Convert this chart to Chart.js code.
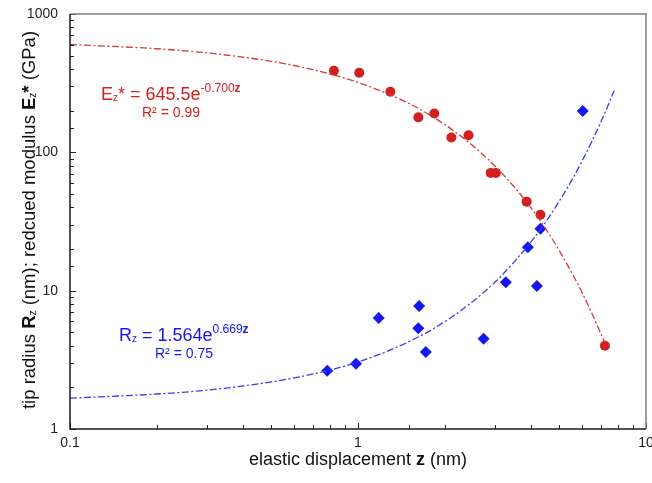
<!DOCTYPE html>
<html>
<head>
<meta charset="utf-8">
<script src="https://cdn.jsdelivr.net/npm/chart.js@4/dist/chart.umd.min.js"></script>
<style>
  html, body { margin: 0; padding: 0; background: #fff; }
  #wrap { width: 652px; height: 483px; }
</style>
</head>
<body>
<div id="wrap"><canvas id="chart" width="652" height="483"></canvas></div>
<script>
// Data
const modulusZ = [0.825, 1.01, 1.295, 1.62, 1.84, 2.11, 2.42, 2.89, 3.01, 3.85, 4.30, 7.2];
const modulusE = [389, 376, 274, 179, 191, 128, 133, 71, 71, 44, 35.4, 4.0];
const radiusZ = [0.782, 0.984, 1.18, 1.63, 1.62, 1.72, 2.73, 3.26, 3.89, 4.18, 4.30, 6.03];
const radiusR = [2.64, 2.96, 6.34, 7.74, 5.34, 3.61, 4.49, 11.5, 20.6, 10.8, 28.0, 199];

// Trend lines
const modulusFitZ = [0.1, 0.2, 0.3, 0.5, 0.7, 1, 1.5, 2, 2.5, 3, 3.5, 4, 4.5, 5, 5.5, 6, 6.5, 7, 7.2];
const modulusFit = [602, 561, 523, 455, 395, 320, 226, 159, 112, 79, 55.7, 39.3, 27.7, 19.5, 13.7, 9.7, 6.8, 4.8, 4.2];
const radiusFitZ = [0.1, 0.2, 0.3, 0.5, 0.7, 1, 1.5, 2, 2.5, 3, 3.5, 4, 4.5, 5, 5.5, 6, 6.5, 7, 7.5, 7.75];
const radiusFit = [1.67, 1.79, 1.91, 2.19, 2.50, 3.05, 4.27, 5.96, 8.33, 11.6, 16.3, 22.7, 31.7, 44.4, 61.9, 86.6, 121, 169, 236, 279];

const xRange = [0.1, 10];
const yRange = [1, 1000];

const RED = '#d21f1f';
const BLUE = '#1616f5';
const FONT = '"Liberation Sans", Arial, sans-serif';

const toPoints = (xs, ys) => xs.map((x, i) => ({ x, y: ys[i] }));
const isDecade = v => Math.abs(Math.log10(v) - Math.round(Math.log10(v))) < 1e-9;

// Draw a row of text pieces with mixed size / weight / offset
function runsWidth(ctx, runs) {
  return runs.reduce((w, r) => {
    ctx.font = `${r.bold ? 'bold ' : ''}${r.size}px ${FONT}`;
    return w + ctx.measureText(r.text).width;
  }, 0);
}
function drawRuns(ctx, x, y, runs, color) {
  ctx.fillStyle = color;
  ctx.textBaseline = 'alphabetic';
  ctx.textAlign = 'left';
  runs.forEach(r => {
    ctx.font = `${r.bold ? 'bold ' : ''}${r.size}px ${FONT}`;
    ctx.fillText(r.text, x, y + (r.dy || 0));
    x += ctx.measureText(r.text).width;
  });
}

const decorations = {
  id: 'decorations',
  afterDraw(chart) {
    const { ctx, chartArea: a, scales } = chart;
    ctx.save();

    // inward tick marks
    ctx.strokeStyle = '#222';
    ctx.lineWidth = 1;
    scales.x.ticks.forEach(t => {
      const px = Math.round(scales.x.getPixelForValue(t.value)) + 0.5;
      const len = isDecade(t.value) ? 6 : 4;
      ctx.beginPath();
      ctx.moveTo(px, a.bottom);
      ctx.lineTo(px, a.bottom - len);
      ctx.stroke();
    });
    scales.y.ticks.forEach(t => {
      const py = Math.round(scales.y.getPixelForValue(t.value)) + 0.5;
      const len = isDecade(t.value) ? 6 : 4;
      ctx.beginPath();
      ctx.moveTo(a.left, py);
      ctx.lineTo(a.left + len, py);
      ctx.stroke();
    });

    // frame
    ctx.lineWidth = 1.5;
    ctx.strokeStyle = '#808080';
    ctx.beginPath();
    ctx.moveTo(a.left, a.top);
    ctx.lineTo(a.right, a.top);
    ctx.lineTo(a.right, a.bottom);
    ctx.stroke();
    ctx.strokeStyle = '#1a1a1a';
    ctx.beginPath();
    ctx.moveTo(a.left, a.top);
    ctx.lineTo(a.left, a.bottom);
    ctx.lineTo(a.right, a.bottom);
    ctx.stroke();

    // axis titles
    const xTitle = [
      { text: 'elastic displacement ', size: 18 },
      { text: 'z', size: 18, bold: true },
      { text: ' (nm)', size: 18 }
    ];
    const cx = (a.left + a.right) / 2;
    drawRuns(ctx, cx - runsWidth(ctx, xTitle) / 2, 465, xTitle, '#111');

    const yTitle = [
      { text: 'tip radius ', size: 18.5 },
      { text: 'R', size: 18.5, bold: true },
      { text: 'z', size: 10, dy: 1 },
      { text: ' (nm); redcued modulus ', size: 18.5 },
      { text: 'E', size: 18.5, bold: true },
      { text: 'z', size: 10, dy: 1 },
      { text: '*', size: 18.5, bold: true },
      { text: ' (GPa)', size: 18.5 }
    ];
    ctx.save();
    ctx.translate(35, 220);
    ctx.rotate(-Math.PI / 2);
    drawRuns(ctx, -runsWidth(ctx, yTitle) / 2, 0, yTitle, '#111');
    ctx.restore();

    // fit equations
    drawRuns(ctx, 101, 100, [
      { text: 'E', size: 18 },
      { text: 'z', size: 10, dy: 1 },
      { text: '* = 645.5e', size: 18 },
      { text: '-0.700', size: 12, dy: -8 },
      { text: 'z', size: 12, bold: true, dy: -8 }
    ], RED);
    drawRuns(ctx, 142, 117, [{ text: 'R² = 0.99', size: 14 }], RED);

    drawRuns(ctx, 119, 341, [
      { text: 'R', size: 18 },
      { text: 'z', size: 10, dy: 1 },
      { text: ' = 1.564e', size: 18 },
      { text: '0.669', size: 12, dy: -8 },
      { text: 'z', size: 12, bold: true, dy: -8 }
    ], BLUE);
    drawRuns(ctx, 155, 358, [{ text: 'R² = 0.75', size: 14 }], BLUE);

    ctx.restore();
  }
};

new Chart(document.getElementById('chart'), {
  type: 'scatter',
  data: {
    datasets: [
      {
        type: 'line',
        label: 'E fit',
        data: toPoints(modulusFitZ, modulusFit),
        borderColor: '#d43a3a',
        borderWidth: 1.3,
        borderDash: [7, 2.5, 2, 2.5],
        pointRadius: 0,
        fill: false,
        cubicInterpolationMode: 'monotone'
      },
      {
        type: 'line',
        label: 'R fit',
        data: toPoints(radiusFitZ, radiusFit),
        borderColor: '#3a3af5',
        borderWidth: 1.3,
        borderDash: [7, 2.5, 2, 2.5],
        pointRadius: 0,
        fill: false,
        cubicInterpolationMode: 'monotone'
      },
      {
        label: 'Ez*',
        data: toPoints(modulusZ, modulusE),
        pointStyle: 'circle',
        pointRadius: 5,
        pointHoverRadius: 5,
        backgroundColor: RED,
        borderColor: RED,
        borderWidth: 0
      },
      {
        label: 'Rz',
        data: toPoints(radiusZ, radiusR),
        pointStyle: 'rectRot',
        pointRadius: 6,
        pointHoverRadius: 6,
        backgroundColor: BLUE,
        borderColor: BLUE,
        borderWidth: 0
      }
    ]
  },
  options: {
    responsive: false,
    animation: false,
    events: [],
    layout: { padding: { top: 14, right: 6, left: 0, bottom: 0 } },
    plugins: {
      legend: { display: false },
      tooltip: { enabled: false }
    },
    scales: {
      x: {
        type: 'logarithmic',
        min: xRange[0],
        max: xRange[1],
        grid: { display: false, drawTicks: false },
        border: { display: false },
        ticks: {
          autoSkip: false,
          maxRotation: 0,
          padding: 6,
          color: '#222',
          font: { family: FONT, size: 14 },
          callback: v => (isDecade(v) ? String(v) : '')
        },
        afterFit(scale) {
          scale.height = 54;
          scale.paddingLeft = 0;
          scale.paddingRight = 0;
        }
      },
      y: {
        type: 'logarithmic',
        min: yRange[0],
        max: yRange[1],
        grid: { display: false, drawTicks: false },
        border: { display: false },
        ticks: {
          autoSkip: false,
          padding: 12,
          color: '#222',
          font: { family: FONT, size: 14 },
          callback: v => (isDecade(v) ? String(v) : '')
        },
        afterFit(scale) {
          scale.width = 70;
          scale.paddingTop = 0;
          scale.paddingBottom = 0;
        }
      }
    }
  },
  plugins: [decorations]
});
</script>
</body>
</html>
